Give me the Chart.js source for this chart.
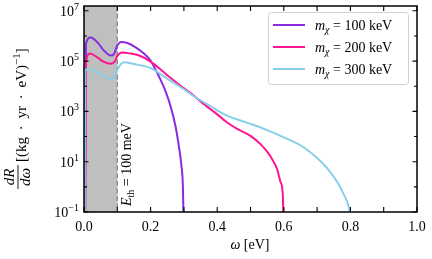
<!DOCTYPE html>
<html>
<head>
<meta charset="utf-8">
<script src="https://cdn.jsdelivr.net/npm/chart.js@4.4.0/dist/chart.umd.min.js"></script>
<style>
body{margin:0;background:#fff;}
#wrap{width:432px;height:259px;}
</style>
</head>
<body>
<div id="wrap"><canvas id="chart1" width="432" height="259"></canvas></div>
<script>
/* DATA */
const labels=["100 keV","200 keV","300 keV"];
const colors=["#8a2be2","#ff1493","#87ceeb"];

const omega100=[0.003,0.006,0.02,0.04,0.06,0.08,0.09,0.10,0.112,0.13,0.154,0.18,0.2,0.215,0.23,0.245,0.26,0.275,0.285,0.292,0.297,0.3];
const rate100=[0.01,5.0e5,8.7e5,5.6e5,2.6e5,1.66e5,1.9e5,4.2e5,5.75e5,5.25e5,3.6e5,2.0e5,1.05e5,4.5e4,1.8e4,6.3e3,1.6e3,250,40,8,1,0.01];

const omega200=[0.003,0.006,0.018,0.04,0.06,0.08,0.092,0.10,0.114,0.14,0.164,0.2,0.25,0.3,0.33,0.35,0.4,0.43,0.46,0.5,0.53,0.55,0.565,0.58,0.59,0.597,0.6];
const rate200=[0.01,9.1e4,2.0e5,1.4e5,9.3e4,7.9e4,9.5e4,1.6e5,2.2e5,2.0e5,1.7e5,9.5e4,2.75e4,8.3e3,4.2e3,2.5e3,760,360,200,107,50,25,12.6,5,1.6,0.5,0.01];

const omega300=[0.002,0.004,0.012,0.04,0.06,0.08,0.092,0.10,0.119,0.15,0.2,0.25,0.3,0.33,0.38,0.43,0.5,0.55,0.6,0.65,0.7,0.73,0.76,0.78,0.795,0.8];
const rate300=[0.01,4.0e4,5.0e4,3.55e4,2.5e4,2.0e4,2.4e4,4.5e4,8.9e4,7.6e4,5.25e4,2.0e4,7.6e3,4.0e3,1.6e3,680,320,180,93,45,14,5.6,1.6,0.5,0.16,0.063];

const xTicks=[0,0.1,0.2,0.3,0.4,0.5,0.6,0.7,0.8,0.9,1.0];
const xLabels=["0.0","0.2","0.4","0.6","0.8","1.0"];
const yExps=[-1,0,1,2,3,4,5,6,7];
const yLabelExps=[-1,1,3,5,7];
const thresholdBand=[0,0.1];

const omegas=[omega100,omega200,omega300];
const rates=[rate100,rate200,rate300];

const SERIF='"Liberation Serif","DejaVu Serif",serif';

/* DRAW HELPERS */
function legendText(ctx,x,y,rest){
  ctx.textAlign="left";ctx.textBaseline="alphabetic";
  ctx.font="italic 14px "+SERIF;
  ctx.fillText("m",x,y);
  x+=ctx.measureText("m").width;
  ctx.font="italic 10px "+SERIF;
  ctx.fillText("χ",x,y+3);
  x+=ctx.measureText("χ").width;
  ctx.font="14px "+SERIF;
  ctx.fillText(" = "+rest,x,y);
}

const decor={
  id:"decor",
  beforeDatasetsDraw(c){
    const {ctx,chartArea:a,scales:{x}}=c;
    const x0=x.getPixelForValue(thresholdBand[0]),x1=x.getPixelForValue(thresholdBand[1]);
    ctx.save();
    ctx.fillStyle="#bfbfbf";
    ctx.fillRect(x0,a.top,x1-x0,a.bottom-a.top);
    ctx.strokeStyle="#808080";ctx.lineWidth=1.2;ctx.setLineDash([5,2.6]);
    ctx.beginPath();ctx.moveTo(x1,a.top);ctx.lineTo(x1,a.bottom);ctx.stroke();
    ctx.restore();
  },
  afterDraw(c){
    const {ctx,chartArea:a,scales:{x,y}}=c;
    ctx.save();
    ctx.fillStyle="#000";

    /* threshold text */
    const x1=x.getPixelForValue(thresholdBand[1]);
    ctx.save();
    ctx.translate(x1+14,a.bottom-6);ctx.rotate(-Math.PI/2);
    ctx.textAlign="left";ctx.textBaseline="alphabetic";
    ctx.font="italic 14px "+SERIF;ctx.fillText("E",0,0);
    let w=ctx.measureText("E").width;
    ctx.font="10px "+SERIF;ctx.fillText("th",w,3);
    w+=ctx.measureText("th").width;
    ctx.font="14px "+SERIF;ctx.fillText(" = 100 meV",w,0);
    ctx.restore();

    /* frame */
    ctx.strokeStyle="#000";ctx.lineWidth=1.5;
    ctx.strokeRect(a.left,a.top,a.right-a.left,a.bottom-a.top);

    /* ticks */
    ctx.lineWidth=1.1;
    ctx.beginPath();
    xTicks.forEach(v=>{
      const px=x.getPixelForValue(v);
      ctx.moveTo(px,a.bottom);ctx.lineTo(px,a.bottom-5);
      ctx.moveTo(px,a.top);ctx.lineTo(px,a.top+5);
    });
    yExps.forEach(e=>{
      const py=y.getPixelForValue(Math.pow(10,e));
      const len=yLabelExps.includes(e)?4.5:3;
      ctx.moveTo(a.left,py);ctx.lineTo(a.left+len,py);
      ctx.moveTo(a.right,py);ctx.lineTo(a.right-len,py);
    });
    ctx.stroke();

    /* x labels */
    ctx.font="14px "+SERIF;ctx.textAlign="center";ctx.textBaseline="alphabetic";
    xLabels.forEach(t=>{
      ctx.fillText(t,x.getPixelForValue(parseFloat(t)),231);
    });

    /* y labels */
    yLabelExps.forEach(e=>{
      const py=y.getPixelForValue(Math.pow(10,e));
      const ex=e<0?"\u2212"+(-e):String(e);
      ctx.font="10px "+SERIF;
      const ew=ctx.measureText(ex).width;
      ctx.textAlign="left";
      ctx.fillText(ex,79-ew,py-1);
      ctx.font="14px "+SERIF;
      ctx.textAlign="right";
      ctx.fillText("10",79-ew,py+5);
    });

    /* x title */
    ctx.font="italic 14px "+SERIF;
    const wa=ctx.measureText("ω").width;
    ctx.font="14px "+SERIF;
    const wb=ctx.measureText(" [eV]").width;
    let sx=250-(wa+wb)/2;
    ctx.textAlign="left";
    ctx.font="italic 14px "+SERIF;ctx.fillText("ω",sx,249);
    ctx.font="14px "+SERIF;ctx.fillText(" [eV]",sx+wa,249);

    /* y title */
    ctx.save();
    ctx.rotate(-Math.PI/2);
    ctx.textAlign="center";ctx.textBaseline="alphabetic";
    ctx.font="italic 15px "+SERIF;
    ctx.fillText("dR",-177,14);
    ctx.fillText("dω",-177,30);
    ctx.lineWidth=0.9;
    ctx.beginPath();ctx.moveTo(-165,18);ctx.lineTo(-189,18);ctx.stroke();
    ctx.textAlign="left";
    ctx.font="15px "+SERIF;
    let tx=-162;
    const br="[(kg \u2009·\u2009 yr \u2009·\u2009 eV)";
    ctx.fillText(br,tx,26);
    tx+=ctx.measureText(br).width;
    ctx.font="11px "+SERIF;
    ctx.fillText("\u22121",tx,20);
    tx+=ctx.measureText("\u22121").width;
    ctx.font="15px "+SERIF;
    ctx.fillText("]",tx,26);
    ctx.restore();

    /* legend */
    ctx.fillStyle="rgba(255,255,255,0.85)";
    ctx.strokeStyle="#d0d0d0";ctx.lineWidth=1;
    ctx.beginPath();ctx.roundRect(268.5,12.5,140,72,3);ctx.fill();ctx.stroke();
    labels.forEach((l,i)=>{
      const ly=25+i*22;
      ctx.strokeStyle=colors[i];ctx.lineWidth=2;
      ctx.beginPath();ctx.moveTo(273,ly);ctx.lineTo(305,ly);ctx.stroke();
      ctx.fillStyle="#000";
      legendText(ctx,315,ly+5,l);
    });
    ctx.restore();
  }
};

/* CHART */
new Chart(chart1,{
  type:"line",
  data:{
    datasets:labels.map((l,i)=>({
      label:l,
      data:omegas[i].map((w,j)=>({x:w,y:rates[i][j]})),
      borderColor:colors[i],
      borderWidth:2,
      pointRadius:0,
      cubicInterpolationMode:"monotone",
      fill:false,
      order:3-i
    }))
  },
  options:{
    responsive:false,
    animation:false,
    layout:{padding:{top:6,right:15,left:0,bottom:0}},
    plugins:{legend:{display:false},tooltip:{enabled:false}},
    scales:{
      x:{type:"linear",min:0,max:1,
        grid:{display:false},border:{display:false},ticks:{display:false},
        afterFit(s){s.height=47;}},
      y:{type:"logarithmic",min:0.1,max:1.55e7,
        grid:{display:false},border:{display:false},ticks:{display:false},
        afterFit(s){s.width=84;}}
    }
  },
  plugins:[decor]
});
</script>
</body>
</html>
